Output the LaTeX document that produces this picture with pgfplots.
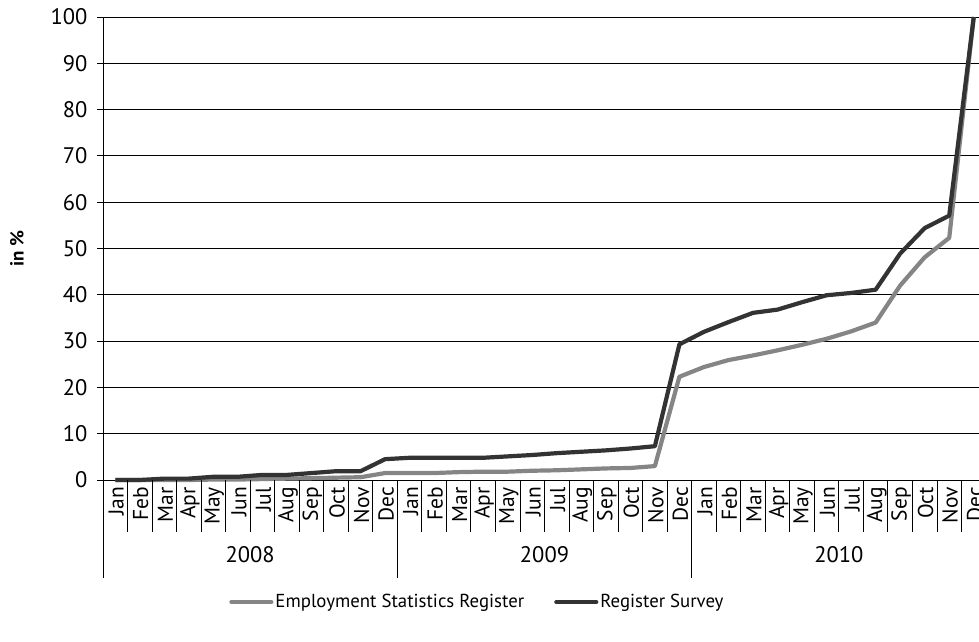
\documentclass[border=0pt]{standalone}
\usepackage{pgfplots}
\pgfplotsset{compat=1.18}
\usepackage{fontspec}
\setmainfont{PT Sans}
\definecolor{darkline}{HTML}{333333}
\definecolor{grayline}{HTML}{858585}
\pgfplotstableread{
x esr rs
0 0 0
1 0 0
2 0 0.3
3 0 0.3
4 0.1 0.7
5 0.1 0.7
6 0.2 1.1
7 0.3 1.1
8 0.4 1.5
9 0.5 1.9
10 0.6 1.9
11 1.5 4.5
12 1.5 4.8
13 1.5 4.8
14 1.7 4.8
15 1.8 4.8
16 1.8 5.1
17 2.0 5.4
18 2.1 5.8
19 2.3 6.1
20 2.5 6.4
21 2.6 6.8
22 3.0 7.3
23 22.3 29.3
24 24.4 32.0
25 25.9 34.1
26 26.9 36.1
27 28.0 36.8
28 29.2 38.4
29 30.5 39.9
30 32.1 40.4
31 34.0 41.1
32 42.0 48.9
33 48.1 54.4
34 52.3 57.1
35 100 100
}\datatable
\begin{document}
\begin{tikzpicture}[x=1pt,y=1pt]
\begin{axis}[
  at={(103pt,161pt)}, anchor=south west,
  scale only axis, width=883pt, height=463pt,
  xmin=-0.5, xmax=35.5, ymin=0, ymax=100,
  axis x line*=bottom, axis y line*=left,
  axis line style={black, line width=0.9pt},
  clip=false,
  ytick={0,10,...,100},
  ymajorgrids, y grid style={black, line width=0.9pt},
  yticklabel style={font=\fontsize{22.5}{26}\selectfont, xshift=-6pt},
  /pgf/number format/assume math mode=true,
  tick align=outside,
  major tick length=6pt,
  tick style={black, line width=0.9pt},
  xtick={0,1,...,35},
  xticklabels={Jan,Feb,Mar,Apr,May,Jun,Jul,Aug,Sep,Oct,Nov,Dec,Jan,Feb,Mar,Apr,May,Jun,Jul,Aug,Sep,Oct,Nov,Dec,Jan,Feb,Mar,Apr,May,Jun,Jul,Aug,Sep,Oct,Nov,Dec},
  x tick style={opacity=0},
  xticklabel style={rotate=90, anchor=east, font=\fontsize{21.5}{25}\selectfont, inner sep=1pt, yshift=-1pt},
  ylabel={\textbf{in \%}},
  every axis y label/.style={at={(axis description cs:-0.0974,0.5)}, rotate=90, anchor=center, font=\fontsize{19}{22}\selectfont},
  legend columns=2,
  legend style={draw=none, at={(axis description cs:0.424,-0.2635)}, anchor=center, font=\fontsize{18.8}{22}\selectfont, /tikz/every even column/.append style={column sep=28pt}, inner sep=0pt},
  legend image code/.code={\draw[#1, line cap=round] (0pt,0pt) -- (40pt,0pt);},
]
\addplot[grayline, line width=4.2pt, line join=round] table[x=x, y=esr] {\datatable};
\addlegendentry{Employment Statistics Register}
\addplot[darkline, line width=4.2pt, line join=round] table[x=x, y=rs] {\datatable};
\addlegendentry{Register Survey}
\pgfplotsinvokeforeach{0.5,1.5,...,34.5}{\draw[black, line width=0.9pt] (axis cs:#1,0) -- ++(0pt,-52pt);}
\pgfplotsinvokeforeach{-0.5,11.5,23.5}{\draw[black, line width=0.9pt] (axis cs:#1,0) -- ++(0pt,-98pt);}
\node[font=\fontsize{22.5}{26}\selectfont] at (axis cs:5.5,0) [yshift=-75pt] {2008};
\node[font=\fontsize{22.5}{26}\selectfont] at (axis cs:17.5,0) [yshift=-75pt] {2009};
\node[font=\fontsize{22.5}{26}\selectfont] at (axis cs:29.5,0) [yshift=-75pt] {2010};
\end{axis}
\pgfresetboundingbox
\path[use as bounding box] (0pt,0pt) rectangle (979pt,641pt);
\end{tikzpicture}
\end{document}
